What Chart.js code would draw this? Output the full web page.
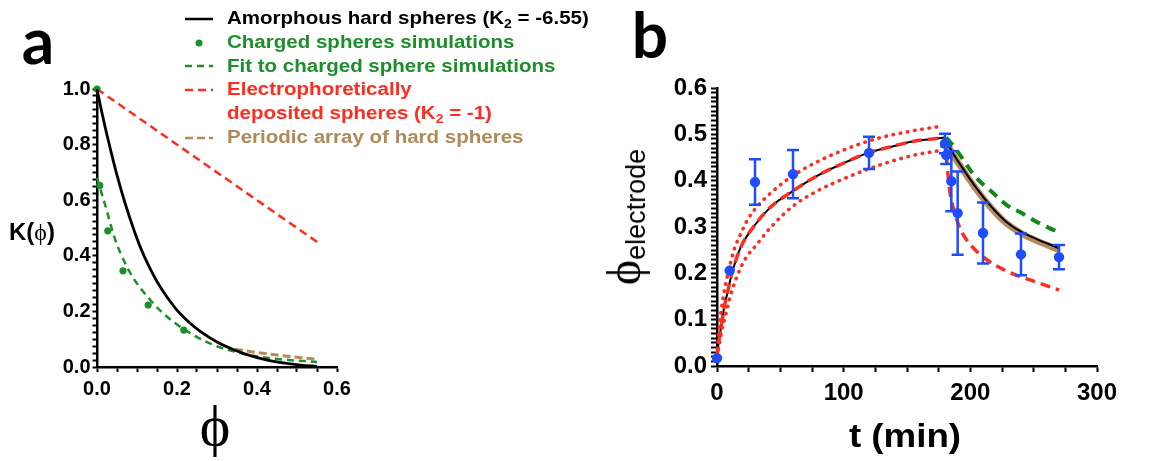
<!DOCTYPE html>
<html>
<head>
<meta charset="utf-8">
<title>K(phi) and electrode packing fraction</title>
<script src="https://cdn.jsdelivr.net/npm/chart.js@4.4.1/dist/chart.umd.min.js"></script>
<style>
  html, body { margin: 0; padding: 0; background: #fff; }
  body { position: relative; width: 1167px; height: 461px; overflow: hidden; font-family: "Liberation Sans", Arial, sans-serif; color: #000; }
  canvas { position: absolute; top: 0; }
  #chartA { left: 0; }
  #chartB { left: 580px; }
  .txt { position: absolute; white-space: nowrap; line-height: 1; transform: translate(-50%, -50%); }
  .panel { font-family: "Lato", "Open Sans", sans-serif; font-weight: bold; font-size: 64px; }
  .serif { font-family: "Liberation Serif", "Times New Roman", serif; font-weight: normal; }
  #legendA { position: absolute; left: 184px; top: 7.2px; }
  .lrow { display: flex; align-items: flex-start; }
  .lrow svg { flex: none; margin-top: 6.85px; }
  .ltext { margin-left: 11px; font-weight: bold; font-size: 18px; line-height: 23.7px; white-space: nowrap; transform: scaleX(1.14); transform-origin: left center; }
  .ltext sub { font-size: 0.68em; vertical-align: -0.3em; line-height: 0; }
</style>
</head>
<body>
<canvas id="chartA" width="560" height="461"></canvas>
<canvas id="chartB" width="587" height="461"></canvas>

<div class="txt panel" style="left:38px; top:40px;">a</div>
<div class="txt panel" style="left:650px; top:34px;">b</div>
<div class="txt" style="left:32px; top:232px; font-size:24px; font-weight:bold;">K(<span class="serif">ϕ</span>)</div>
<div class="txt serif" style="left:215px; top:426px; font-size:58px;">ϕ</div>
<div class="txt" style="left:905px; top:435px; font-size:34px; font-weight:bold; transform: translate(-50%, -50%) scaleX(1.08);">t (min)</div>
<div class="txt" style="left:624px; top:217px; font-size:48px; transform: translate(-50%, -50%) rotate(-90deg);"><span class="serif">ϕ</span><span style="font-size:27px; vertical-align:-5px; line-height:0;">electrode</span></div>
<div id="legendA"></div>

<script>
// ---- panel a : K(phi) ----
const phiHS = [0, 0.01, 0.02, 0.035, 0.05, 0.07, 0.093, 0.11, 0.13, 0.151, 0.175, 0.201, 0.23, 0.259, 0.3, 0.342, 0.385, 0.426, 0.47, 0.509, 0.55];
const kHS = [1.0, 0.93, 0.865, 0.775, 0.69, 0.59, 0.49, 0.425, 0.362, 0.305, 0.252, 0.203, 0.161, 0.127, 0.09, 0.062, 0.04, 0.025, 0.014, 0.007, 0.002];

const phiSim = [0, 0.007, 0.027, 0.065, 0.128, 0.217];
const kSim = [1.0, 0.653, 0.49, 0.346, 0.223, 0.133];

const phiFit = [0, 0.02, 0.045, 0.075, 0.1, 0.125, 0.16, 0.2, 0.235, 0.27, 0.305, 0.345, 0.38, 0.45, 0.55];
const kFit = [0.68, 0.585, 0.46, 0.36, 0.30, 0.255, 0.2, 0.153, 0.12, 0.093, 0.072, 0.055, 0.043, 0.029, 0.018];

const phiEpd = [0, 0.55];
const kEpd = [1.0, 0.45];

const phiPer = [0.345, 0.4, 0.45, 0.5, 0.55];
const kPer = [0.064, 0.052, 0.043, 0.035, 0.028];

// ---- panel b : phi_electrode vs t ----
const tGrow = [0, 1.5, 3, 5.5, 8, 11.5, 18.7, 30.7, 42.7, 59.5, 78.7, 102.6, 119.4, 140, 155.4, 180];
const vGrow = [0.02, 0.055, 0.08, 0.124, 0.155, 0.197, 0.256, 0.307, 0.344, 0.377, 0.41, 0.441, 0.46, 0.475, 0.485, 0.493];

const tUpper = [0, 2, 4.3, 6.7, 10, 14, 18.7, 24, 30.7, 42.7, 59.5, 78.7, 102.6, 126.6, 155.4, 178];
const vUpper = [0.02, 0.09, 0.138, 0.175, 0.215, 0.255, 0.285, 0.315, 0.341, 0.374, 0.41, 0.44, 0.469, 0.491, 0.508, 0.518];

const tLower = [0, 2, 4, 6.7, 10, 14, 18.7, 24, 30.7, 42.7, 59.5, 78.7, 102.6, 126.6, 155.4, 178];
const vLower = [0.02, 0.05, 0.08, 0.109, 0.145, 0.18, 0.212, 0.238, 0.26, 0.3, 0.344, 0.377, 0.407, 0.432, 0.455, 0.466];

const tDecay = [180, 185, 192.5, 204.5, 216.5, 228.5, 240.5, 252.5, 270];
const vBlackDecay = [0.493, 0.465, 0.433, 0.385, 0.344, 0.311, 0.289, 0.274, 0.254];
const vBrownDecay = [0.49, 0.462, 0.43, 0.382, 0.341, 0.308, 0.286, 0.27, 0.251];

const tGreen = [181, 188, 204.5, 216.5, 228.5, 240.5, 252.5, 270];
const vGreen = [0.493, 0.47, 0.407, 0.377, 0.348, 0.33, 0.311, 0.288];

const tRedDecay = [180, 181.7, 184, 187.7, 192.5, 199.7, 211.7, 228.5, 251, 270];
const vRedDecay = [0.49, 0.433, 0.374, 0.33, 0.293, 0.263, 0.232, 0.205, 0.182, 0.164];

const tExp = [0, 10, 30, 60, 120, 180, 181, 185, 190, 210, 240, 270];
const vExp = [0.017, 0.206, 0.397, 0.414, 0.46, 0.48, 0.455, 0.399, 0.33, 0.287, 0.241, 0.235];
const eExp = [0, 0, 0.049, 0.052, 0.035, 0.021, 0.019, 0.065, 0.09, 0.066, 0.045, 0.026];

const BLACK = '#000000', GREEN = '#1d8f2a', RED = '#ff2d1f', BROWN = '#b58b5a', BLUE = '#1f4cff';
const GREEN_B = '#12881a';

const pts = (xs, ys) => xs.map((x, i) => ({ x, y: ys[i] }));

function axis(min, max, step, major, size, pad, tickLen, decimals, fit) {
    return {
        type: 'linear', min, max,
        afterFit: fit,
        border: { display: true, color: '#000', width: 2.5 },
        grid: { display: true, drawOnChartArea: false, drawTicks: true, tickLength: tickLen, tickWidth: 2, tickColor: '#000' },
        ticks: {
            stepSize: step, autoSkip: false, maxRotation: 0, minRotation: 0, padding: pad, color: '#000',
            font: { family: 'Liberation Sans', weight: 'bold', size },
            callback: v => (Math.abs(v / major - Math.round(v / major)) < 1e-6 ? v.toFixed(decimals) : ''),
        },
    };
}

function line(label, xs, ys, color, width, dash, extra) {
    return Object.assign({
        label, data: pts(xs, ys), borderColor: color, backgroundColor: color,
        borderWidth: width, borderDash: dash, pointRadius: 0, fill: false,
        cubicInterpolationMode: 'monotone', clip: false,
    }, extra || {});
}

const baseOptions = (padding) => ({
    responsive: false, animation: false, devicePixelRatio: 1,
    layout: { padding, autoPadding: false },
    plugins: { legend: { display: false }, tooltip: { enabled: false } },
});

// panel a
const chartA = new Chart(document.getElementById('chartA'), {
    type: 'line',
    data: {
        datasets: [
            line('Amorphous hard spheres (K2 = -6.55)', phiHS, kHS, BLACK, 2.8, []),
            line('Charged spheres simulations', phiSim, kSim, GREEN, 0, [], { showLine: false, pointRadius: 3.6, pointBorderWidth: 0 }),
            line('Fit to charged sphere simulations', phiFit, kFit, GREEN, 2.5, [7, 5]),
            line('Electrophoretically\ndeposited spheres (K2 = -1)', phiEpd, kEpd, RED, 2.5, [8, 5]),
            line('Periodic array of hard spheres', phiPer, kPer, BROWN, 3, [8, 4]),
        ],
    },
    options: Object.assign(baseOptions({ left: 0, top: 89, right: 223, bottom: 0 }), {
        scales: {
            x: axis(0, 0.6, 0.05, 0.2, 20, 5, 5, 1, s => { s.height = 94; }),
            y: axis(0, 1, 0.025, 0.2, 20, 2, 4.5, 1, s => { s.width = 97; }),
        },
    }),
});

// legend for panel a, built from its datasets
const legendColors = [BLACK, GREEN, GREEN, RED, '#b08a58'];
const legendBox = document.getElementById('legendA');
chartA.data.datasets.forEach((ds, i) => {
    const row = document.createElement('div');
    row.className = 'lrow';
    let sample;
    if (ds.showLine === false) {
        sample = `<svg width="32" height="10"><circle cx="15" cy="5" r="3.5" fill="${ds.backgroundColor}"/></svg>`;
    } else {
        sample = `<svg width="32" height="10"><line x1="1" y1="5" x2="29" y2="5" stroke="${ds.borderColor}" stroke-width="2.5" stroke-dasharray="${ds.borderDash.join(' ')}"/></svg>`;
    }
    const text = ds.label.replace(/K2/g, 'K<sub>2</sub>').replace('\n', '<br>');
    row.innerHTML = sample + `<div class="ltext" style="color:${legendColors[i]}">${text}</div>`;
    legendBox.appendChild(row);
});

// error bars for panel b
const errorBars = {
    id: 'errorBars',
    afterDatasetsDraw(chart) {
        const { ctx, scales: { x, y } } = chart;
        ctx.save();
        ctx.strokeStyle = BLUE;
        ctx.lineWidth = 2.5;
        tExp.forEach((t, i) => {
            if (!eExp[i]) return;
            const px = x.getPixelForValue(t);
            const top = y.getPixelForValue(vExp[i] + eExp[i]);
            const bot = y.getPixelForValue(vExp[i] - eExp[i]);
            ctx.beginPath();
            ctx.moveTo(px, top); ctx.lineTo(px, bot);
            ctx.moveTo(px - 6, top); ctx.lineTo(px + 6, top);
            ctx.moveTo(px - 6, bot); ctx.lineTo(px + 6, bot);
            ctx.stroke();
        });
        ctx.restore();
    },
};

// panel b (first dataset is drawn on top)
const chartB = new Chart(document.getElementById('chartB'), {
    type: 'line',
    data: {
        datasets: [
            line('Experiment', tExp, vExp, BLUE, 0, [], { showLine: false, pointRadius: 5.2, pointBorderWidth: 0 }),
            line('Green decay', tGreen, vGreen, GREEN_B, 4, [10, 7]),
            line('Upper bound', tUpper, vUpper, RED, 3.6, [0.5, 6.8], { borderCapStyle: 'round' }),
            line('Lower bound', tLower, vLower, RED, 3.6, [0.5, 6.8], { borderCapStyle: 'round' }),
            line('Red growth', tGrow, vGrow, RED, 3.5, [10, 6]),
            line('Red decay', tRedDecay, vRedDecay, RED, 3.5, [10, 6]),
            line('Black growth', tGrow, vGrow, BLACK, 2, []),
            line('Black decay', tDecay, vBlackDecay, BLACK, 2, []),
            line('Brown decay', tDecay, vBrownDecay, BROWN, 6.5, []),
        ],
    },
    options: Object.assign(baseOptions({ left: 0, top: 88, right: 70, bottom: 0 }), {
        scales: {
            x: axis(0, 300, 25, 100, 24, 7, 6, 0, s => { s.height = 95; }),
            y: axis(0, 0.6, 0.01, 0.1, 24, 4, 6, 1, s => { s.width = 137; }),
        },
    }),
    plugins: [errorBars],
});
</script>
</body>
</html>
